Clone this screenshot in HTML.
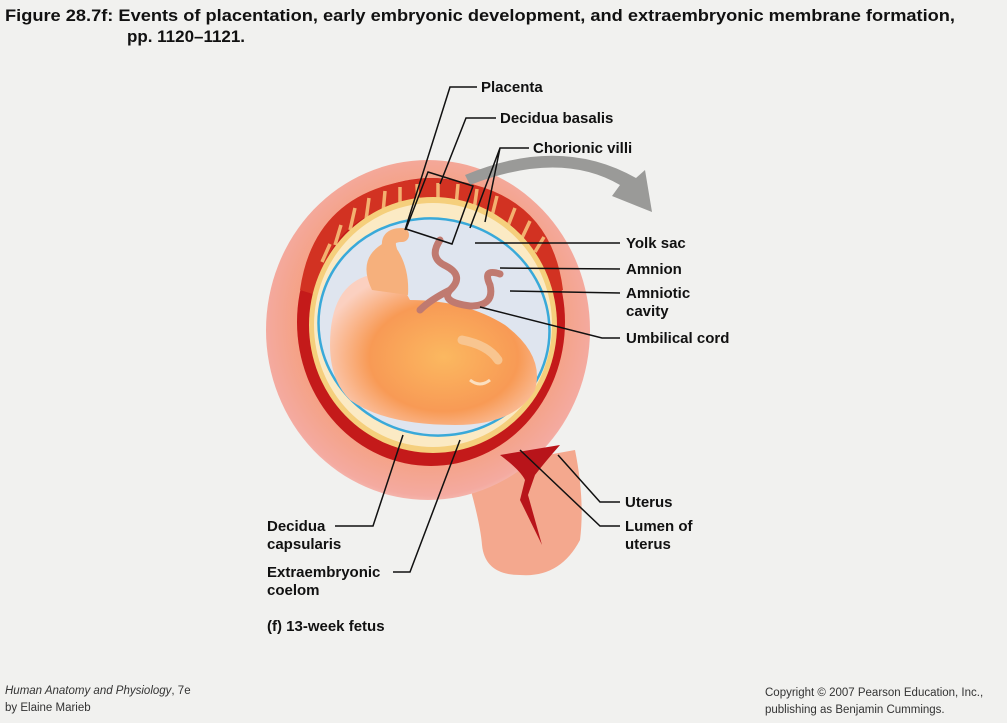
<!DOCTYPE html>
<html><head><meta charset="utf-8"><style>
html,body{margin:0;padding:0;background:#f1f1ef;}
svg{display:block}
.l{font-family:"Liberation Sans",sans-serif;font-weight:bold;font-size:15px;fill:#111}
.t{font-family:"Liberation Sans",sans-serif;font-weight:bold;font-size:17px;fill:#111}
.f{font-family:"Liberation Sans",sans-serif;font-size:11.5px;fill:#333}
</style></head><body>
<svg width="1007" height="723" viewBox="0 0 1007 723" xmlns="http://www.w3.org/2000/svg">
<defs>
<radialGradient id="ut" cx="0.5" cy="0.48" r="0.55">
<stop offset="0.7" stop-color="#f5a080"/><stop offset="0.92" stop-color="#f4aaa0"/><stop offset="1" stop-color="#f6c8c2"/>
</radialGradient>
<radialGradient id="fe" cx="0.55" cy="0.55" r="0.6">
<stop offset="0" stop-color="#fbb860"/><stop offset="0.6" stop-color="#f89a55"/><stop offset="1" stop-color="#fbd0c0"/>
</radialGradient>
</defs>
<rect width="1007" height="723" fill="#f1f1ef"/>
<text class="t" x="5" y="21" textLength="950" lengthAdjust="spacingAndGlyphs">Figure 28.7f:  Events of placentation, early embryonic development, and extraembryonic membrane formation,</text>
<text class="t" x="127" y="42" textLength="118" lengthAdjust="spacingAndGlyphs">pp. 1120–1121.</text>

<!-- cervix -->
<path d="M465,470 Q480,520 482,545 Q485,575 520,575 Q560,578 580,540 Q585,500 575,450 Z" fill="#f4a88e"/>
<!-- uterus -->
<ellipse cx="428" cy="330" rx="162" ry="170" fill="url(#ut)"/>
<!-- decidua -->
<ellipse cx="431" cy="322" rx="134" ry="144" fill="#c41a1a"/>
<path d="M300,290 Q315,185 431,178 Q550,185 563,290 L548,295 Q535,205 431,200 Q330,205 316,295 Z" fill="#d23222"/>
<g stroke="#f3b070" stroke-width="3.5" fill="none">
<path d="M322,262 l8,-18 M335,245 l6,-20 M350,230 l5,-22 M366,220 l3,-22 M383,213 l2,-22 M400,208 l0,-21 M418,205 l-1,-21 M438,205 l0,-22 M456,206 l2,-22 M474,210 l3,-21 M492,216 l5,-20 M508,226 l7,-18 M522,238 l8,-17 M535,252 l9,-15"/>
</g>
<ellipse cx="433" cy="325" rx="124" ry="128" fill="#f5cf7c"/>
<ellipse cx="433" cy="325" rx="119" ry="122" fill="#fbeac4"/>
<ellipse cx="434" cy="327" rx="116" ry="108" transform="rotate(15 434 327)" fill="#dfe5ef" stroke="#39a9d9" stroke-width="2.5"/>
<!-- fetus -->
<path d="M330,345 Q330,285 370,275 Q395,270 410,300 Q465,300 505,325 Q545,355 535,390 Q515,425 455,425 Q385,425 350,400 Q330,380 330,345 Z" fill="url(#fe)"/>
<path d="M372,290 Q355,255 390,240 Q410,262 408,295 Z" fill="#f6b07c"/>
<path d="M390,250 Q385,235 402,235" stroke="#f6b07c" stroke-width="14" fill="none" stroke-linecap="round"/>
<path d="M462,340 Q488,345 498,360" stroke="#f8c590" stroke-width="9" fill="none" stroke-linecap="round"/>
<path d="M470,380 q10,8 20,0" stroke="#fbe0c0" stroke-width="3" fill="none"/>
<!-- cord -->
<path d="M440,240 Q428,258 446,266 Q465,276 450,290 Q440,302 470,306 Q495,306 490,285 Q482,268 500,274 M450,290 Q430,300 420,310" stroke="#c07a70" stroke-width="7" fill="none" stroke-linecap="round"/>
<!-- lumen -->
<path d="M500,455 Q520,470 525,480 L520,500 L542,545 L528,495 L535,475 Q545,462 560,445 Z" fill="#b8141a"/>
<!-- gray arrow -->
<path d="M470,185 Q560,150 620,185 L612,196 L652,212 L645,170 L636,178 Q560,135 465,175 Z" fill="#9a9a98"/>
<!-- box -->
<path d="M428,172 L473,186 L452,244 L406,229 Z" fill="none" stroke="#111" stroke-width="1.5"/>

<g stroke="#111" stroke-width="1.5" fill="none">
<path d="M477,87 L450,87 L405,230"/>
<path d="M496,118 L466,118 L440,184"/>
<path d="M529,148 L500,148 L470,228 M500,148 L485,222"/>
<path d="M620,243 L475,243"/>
<path d="M620,269 L500,268"/>
<path d="M620,293 L510,291"/>
<path d="M620,338 L602,338 L480,307"/>
<path d="M620,502 L600,502 L558,455"/>
<path d="M620,526 L600,526 L520,450"/>
<path d="M335,526 L373,526 L403,435"/>
<path d="M393,572 L410,572 L460,440"/>
</g>
<text class="l" x="481" y="92">Placenta</text>
<text class="l" x="500" y="123">Decidua basalis</text>
<text class="l" x="533" y="153">Chorionic villi</text>
<text class="l" x="626" y="248">Yolk sac</text>
<text class="l" x="626" y="274">Amnion</text>
<text class="l" x="626" y="298">Amniotic</text>
<text class="l" x="626" y="316">cavity</text>
<text class="l" x="626" y="343">Umbilical cord</text>
<text class="l" x="625" y="507">Uterus</text>
<text class="l" x="625" y="531">Lumen of</text>
<text class="l" x="625" y="549">uterus</text>
<text class="l" x="267" y="531">Decidua</text>
<text class="l" x="267" y="549">capsularis</text>
<text class="l" x="267" y="577">Extraembryonic</text>
<text class="l" x="267" y="595">coelom</text>
<text class="l" x="267" y="631">(f)  13-week fetus</text>
<text class="f" x="5" y="694"><tspan font-style="italic">Human Anatomy and Physiology</tspan>, 7e</text>
<text class="f" x="5" y="711">by Elaine Marieb</text>
<text class="f" x="765" y="696">Copyright © 2007 Pearson Education, Inc.,</text>
<text class="f" x="765" y="713">publishing as Benjamin Cummings.</text>
</svg>
</body></html>
